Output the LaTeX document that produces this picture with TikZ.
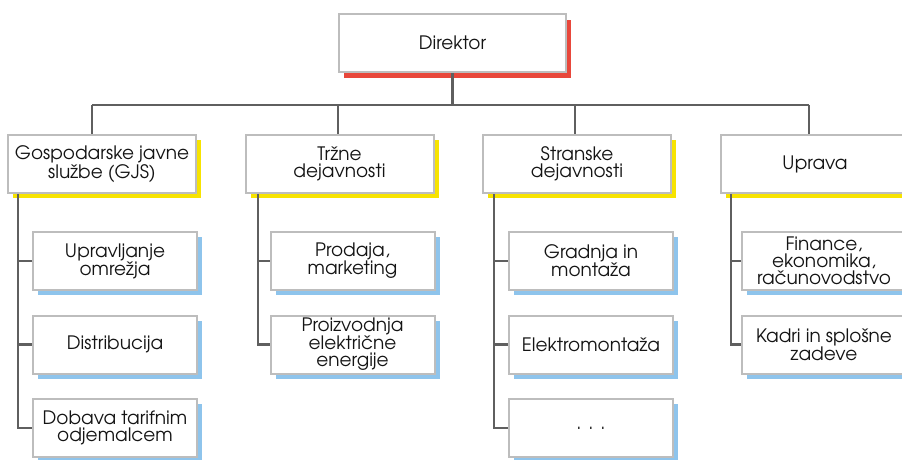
\documentclass[tikz,border=0pt]{standalone}
\usepackage{fontspec}
\setmainfont{TeX Gyre Adventor}
\usetikzlibrary{shadows}
\definecolor{boxline}{HTML}{BDBDBD}
\definecolor{wirecol}{HTML}{5F5F5F}
\definecolor{topred}{HTML}{E8473B}
\definecolor{deptyellow}{HTML}{F7E300}
\definecolor{unitblue}{HTML}{8EC4EC}
\definecolor{ink}{HTML}{141414}
\begin{document}
\begin{tikzpicture}[x=1pt,y=-1pt,
  box/.style={draw=boxline, line width=2pt, fill=white, text=ink, align=center,
    inner sep=0pt, minimum height=58pt, font=\fontsize{18.5}{17}\selectfont},
  topbox/.style={box, minimum width=227pt,
    general shadow={fill=topred, shadow xshift=5pt, shadow yshift=-6pt}},
  deptbox/.style={box, minimum width=188pt,
    general shadow={fill=deptyellow, shadow xshift=5pt, shadow yshift=-5pt}},
  unitbox/.style={box, minimum width=164pt,
    general shadow={fill=unitblue, shadow xshift=5pt, shadow yshift=-5pt}},
  link/.style={draw=wirecol, line width=2.2pt}]
\clip (0,0) rectangle (902,460);

% director
\node[topbox] (dir) at (452.5,43) {Direktor};

% departments
\node[deptbox] (gjs) at (102,164) {Gospodarske javne\\službe (GJS)};
\node[deptbox] (trz) at (339.5,164) {Tržne\\dejavnosti};
\node[deptbox] (str) at (577,164) {Stranske\\dejavnosti};
\node[deptbox] (upr) at (815,164) {Uprava};

% units
\node[unitbox] (g1) at (115,261) {Upravljanje\\omrežja};
\node[unitbox] (g2) at (115,344.5) {Distribucija};
\node[unitbox] (g3) at (115,428) {Dobava tarifnim\\odjemalcem};
\node[unitbox] (t1) at (352.5,261) {Prodaja,\\marketing};
\node[unitbox] (t2) at (352.5,344.5) {Proizvodnja\\električne\\energije};
\node[unitbox] (s1) at (591,261) {Gradnja in\\montaža};
\node[unitbox] (s2) at (591,344.5) {Elektromontaža};
\node[unitbox] (s3) at (591,428) {. . .};
\node[unitbox] (u1) at (824,261) {Finance,\\ekonomika,\\računovodstvo};
\node[unitbox] (u2) at (824,344.5) {Kadri in splošne\\zadeve};

% bus from director to departments
\coordinate (bus) at (452.5,105);
\coordinate (dg) at (92,105);
\coordinate (dt) at (338,105);
\coordinate (ds) at (575,105);
\coordinate (du) at (809,105);
\draw[link] (dir.south) -- (bus);
\draw[link] (dg) -- (du);
\draw[link] (dg) -- (dg |- gjs.north);
\draw[link] (dt) -- (dt |- trz.north);
\draw[link] (ds) -- (ds |- str.north);
\draw[link] (du) -- (du |- upr.north);

% trunks down to the units
\coordinate (tg) at (18,0);
\coordinate (tt) at (258,0);
\coordinate (ts) at (494,0);
\coordinate (tu) at (731,0);
\draw[link] (tg |- gjs.south) |- (g3.west);
\draw[link] (tg |- g1.west) -- (g1.west);
\draw[link] (tg |- g2.west) -- (g2.west);
\draw[link] (tt |- trz.south) |- (t2.west);
\draw[link] (tt |- t1.west) -- (t1.west);
\draw[link] (ts |- str.south) |- (s3.west);
\draw[link] (ts |- s1.west) -- (s1.west);
\draw[link] (ts |- s2.west) -- (s2.west);
\draw[link] (tu |- upr.south) |- (u2.west);
\draw[link] (tu |- u1.west) -- (u1.west);
\end{tikzpicture}
\end{document}
